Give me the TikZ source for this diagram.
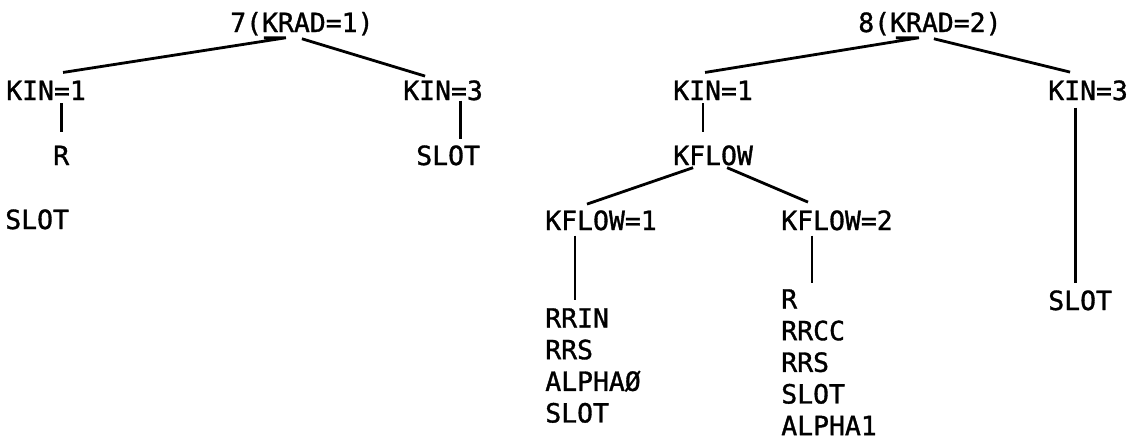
\documentclass[tikz,border=0pt]{standalone}
\usepackage{fontspec}
\usepackage{tikz}
\usetikzlibrary{calc}
\newfontfamily\treefont[FakeBold=1.2]{DejaVu Sans Mono}
\tikzset{
  treelabel/.style={inner sep=0pt,anchor=base west,align=left,
    font=\treefont\fontsize{18.8}{22.5}\selectfont},
  treestack/.style={treelabel,anchor=north west},
  treeedge/.style={line width=2pt,draw=black}
}
\begin{document}
\begin{tikzpicture}[x=0.025cm, y=-0.025cm]
\useasboundingbox (0,0) rectangle (1130,442);

% tree for KRAD=1
\node[treelabel] (rootA) at (230,32) {7(KRAD=1)};
\node[treelabel] (kinAa) at (6,100) {KIN=1};
\node[treelabel] (rA) at (53,165) {R};
\node[treelabel] (slotAa) at (5,229) {SLOT};
\node[treelabel] (kinAb) at (403,100) {KIN=3};
\node[treelabel] (slotAb) at (416,165) {SLOT};

\draw[treeedge] ($(kinAa.north)+(17,-8)$) -- ($(rootA.south)+(-16,2)$) -- ++(-22,0);
\draw[treeedge] ($(rootA.south)+(0,3)$) -- ($(kinAb.north)+(-18,-4)$);
\draw[treeedge] ($(rA.north |- kinAa.south)+(0,3)$) -- ($(rA.north)+(0,-13)$);
\draw[treeedge] ($(slotAb.north |- kinAb.south)+(12,0)$) -- ($(slotAb.north)+(12,-6)$);

% tree for KRAD=2
\node[treelabel] (rootB) at (858,32) {8(KRAD=2)};
\node[treelabel] (kinBa) at (673,100) {KIN=1};
\node[treelabel] (kflow) at (673,165) {KFLOW};
\node[treelabel] (kinBb) at (1048,100) {KIN=3};
\node[treelabel] (slotBb) at (1048,310) {SLOT};
\node[treelabel] (kflowa) at (545,230) {KFLOW=1};
\node[treelabel] (kflowb) at (781,230) {KFLOW=2};
\node[treestack] (lista) at (545,308) {RRIN\\RRS\\ALPHAØ\\SLOT};
\node[treestack] (listb) at (781,289) {R\\RRCC\\RRS\\SLOT\\ALPHA1};

\draw[treeedge] ($(kinBa.north)+(-8,-8)$) -- ($(rootB.south)+(-11,2)$) -- ++(-23,0);
\draw[treeedge] ($(rootB.south)+(4,3)$) -- ($(kinBb.north)+(-18,-8)$);
\draw[treeedge] ($(kflow.north |- kinBa.south)+(-10,3)$) -- ($(kflow.north)+(-10,-13)$);
\draw[treeedge] ($(kflow.south)+(-20,2)$) -- ($(kflowa.north)+(-14,-6)$);
\draw[treeedge] ($(kflow.south)+(14,2)$) -- ($(kflowb.north)+(-29,-8)$);
\draw[treeedge] ($(kflowa.south)+(-26,5)$) -- ($(kflowa.south |- lista.north)+(-26,-8)$);
\draw[treeedge] ($(kflowb.south)+(-25,5)$) -- ($(kflowb.south |- listb.north)+(-25,-6)$);
\draw[treeedge] ($(slotBb.north |- kinBb.south)+(-5,7)$) -- ($(slotBb.north)+(-5,-7)$);
\end{tikzpicture}
\end{document}
